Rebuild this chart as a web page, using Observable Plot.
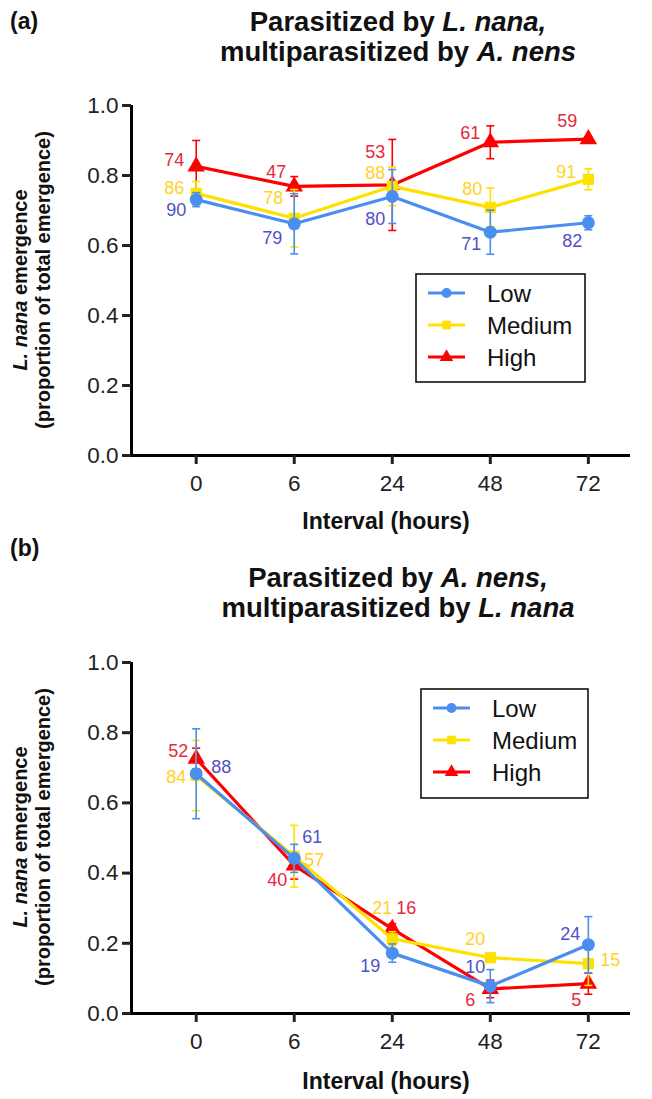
<!DOCTYPE html>
<html><head><meta charset="utf-8">
<script src="https://cdn.jsdelivr.net/npm/d3@7"></script>
<script src="https://cdn.jsdelivr.net/npm/@observablehq/plot@0.6"></script>
<style>
body{margin:0;background:#fff;font-family:"Liberation Sans",Arial,sans-serif;}
#wrap{width:652px;}
svg{display:block;overflow:visible}
</style></head><body><div id="wrap"></div>
<script>
// ---------- data ----------
const intervals = ["0", "6", "24", "48", "72"];
const seriesNames = ["Low", "Medium", "High"];
const yTicks = [0, 0.2, 0.4, 0.6, 0.8, 1.0];

// Panel (a): parasitized by L. nana, multiparasitized by A. nens
const aLow = [0.731, 0.662, 0.740, 0.638, 0.665];
const aLowErr = [0.02, 0.086, 0.077, 0.063, 0.02];
const aLowN = [90, 79, 80, 71, 82];
const aMed = [0.749, 0.678, 0.769, 0.709, 0.789];
const aMedErr = [0.034, 0.082, 0.055, 0.055, 0.03];
const aMedN = [86, 78, 88, 80, 91];
const aHigh = [0.826, 0.769, 0.773, 0.895, 0.904];
const aHighErr = [0.074, 0.028, 0.13, 0.047, 0.006];
const aHighN = [74, 47, 53, 61, 59];

// Panel (b): parasitized by A. nens, multiparasitized by L. nana
const bLow = [0.683, 0.442, 0.172, 0.078, 0.196];
const bLowErr = [0.128, 0.04, 0.026, 0.047, 0.08];
const bLowN = [88, 61, 19, 10, 24];
const bMed = [0.678, 0.448, 0.213, 0.159, 0.142];
const bMedErr = [0.10, 0.088, 0.02, 0.01, 0.062];
const bMedN = [84, 57, 21, 20, 15];
const bHigh = [0.726, 0.422, 0.241, 0.070, 0.085];
const bHighErr = [0.03, 0.039, 0.015, 0.025, 0.03];
const bHighN = [52, 40, 16, 6, 5];

// ---------- layout (label offsets in px, not data) ----------
const aOffsets = {
  Low:    [[-20, 11], [-22, 14], [-17, 23], [-19, 12], [-16, 18]],
  Medium: [[-22, -5], [-21, -20], [-17, -13], [-18, -18], [-22, -7]],
  High:   [[-22, -6], [-18, -14], [-17, -33], [-20, -9], [-21, -18]]
};
const bOffsets = {
  Low:    [[25, -7], [18, -21], [-22, 13], [-15, -19], [-18, -10]],
  Medium: [[-20, 2], [20, 4], [-10, -31], [-15, -18], [22, -3]],
  High:   [[-18, -7], [-17, 15], [14, -21], [-20, 11], [-12, 17]]
};

const colors = {Low: "#4a8ff0", Medium: "#ffe100", High: "#ff0000"};
const labelColors = {Low: "#5050c8", Medium: "#ffd21f", High: "#e8283c"};
const symbols = {Low: "circle", Medium: "square", High: "triangle"};
const symR = {Low: 6.5, Medium: 6.3, High: 6.5};
const font = "Liberation Sans, Arial, Helvetica, sans-serif";

function rowsFor(vals, errs, ns, offs, name) {
  return vals.map((v, i) => ({series: name, i, v, e: errs[i], n: ns[i], dx: offs[name][i][0], dy: offs[name][i][1]}));
}

const capSymbol = {
  draw(context, size) {
    const w = Math.sqrt(size / Math.PI);
    context.moveTo(-w, 0);
    context.lineTo(w, 0);
  }
};

const xMin = -0.66, xMax = 4.43;

function makePanel(data, opts) {
  const marks = [
    Plot.ruleX([xMin], {stroke: "black", strokeWidth: 3}),
    Plot.ruleY([0], {stroke: "black", strokeWidth: 3, x1: xMin, x2: xMax}),
    Plot.axisY({ticks: yTicks, label: null, tickSize: 9, strokeWidth: 3, tickPadding: 4, fontSize: 22.5, tickFormat: d3.format(".1f"), color: "#222"}),
    Plot.axisX({ticks: [0, 1, 2, 3, 4], label: null, tickSize: 9, strokeWidth: 3, tickPadding: 11, fontSize: 22.5, tickFormat: i => intervals[i], color: "#222"})
  ];
  for (const name of ["High", "Medium", "Low"]) {
    const rows = data[name];
    const c = colors[name];
    marks.push(
      Plot.ruleX(rows, {x: "i", y1: d => d.v - d.e, y2: d => d.v + d.e, stroke: c, strokeWidth: 1.6}),
      Plot.dot(rows, {x: "i", y: d => d.v + d.e, symbol: capSymbol, r: 4, stroke: c, strokeWidth: 1.6, fill: "none"}),
      Plot.dot(rows, {x: "i", y: d => d.v - d.e, symbol: capSymbol, r: 4, stroke: c, strokeWidth: 1.6, fill: "none"}),
      Plot.line(rows, {x: "i", y: "v", stroke: c, strokeWidth: 3.2}),
      Plot.dot(rows, {x: "i", y: "v", symbol: symbols[name], r: symR[name], fill: c, stroke: "none"})
    );
  }
  for (const name of ["High", "Medium", "Low"]) {
    for (const r of data[name]) {
      marks.push(Plot.text([r], {x: "i", y: "v", text: "n", dx: r.dx, dy: r.dy, fill: labelColors[name], fontSize: 18}));
    }
  }
  return Plot.plot({
    width: 652, height: opts.height,
    marginTop: opts.marginTop, marginBottom: opts.marginBottom, marginLeft: 131, marginRight: 652 - 630,
    x: {domain: [xMin, xMax], axis: null},
    y: {domain: [0, 1], axis: null},
    style: {fontFamily: font, background: "white", color: "#222", overflow: "visible"},
    marks
  });
}

function decorate(svgNode, o) {
  const svg = d3.select(svgNode);
  const g = svg.append("g").attr("font-family", font).attr("fill", "#111").attr("text-anchor", "start");
  // panel letter
  g.append("text").attr("x", 10).attr("y", o.letterY).attr("font-size", 23).attr("font-weight", "bold").text(o.letter);
  // title
  for (let k = 0; k < 2; k++) {
    const t = g.append("text").attr("x", 398).attr("y", o.titleY[k]).attr("text-anchor", "middle")
      .attr("font-size", 27.5).attr("font-weight", "bold");
    for (const [s, it] of o.title[k]) t.append("tspan").attr("font-style", it ? "italic" : "normal").text(s);
  }
  // y axis title
  const cy = o.axisMid;
  const t1 = g.append("text").attr("transform", `translate(27,${cy}) rotate(-90)`).attr("text-anchor", "middle")
    .attr("font-size", 20).attr("font-weight", "bold");
  t1.append("tspan").attr("font-style", "italic").text("L. nana");
  t1.append("tspan").text(" emergence");
  g.append("text").attr("transform", `translate(50,${cy}) rotate(-90)`).attr("text-anchor", "middle")
    .attr("font-size", 20).attr("font-weight", "bold").text("(proportion of total emergence)");
  // x axis title
  g.append("text").attr("x", 386).attr("y", o.xTitleY).attr("text-anchor", "middle")
    .attr("font-size", 23).attr("font-weight", "bold").text("Interval (hours)");
  // legend
  const L = o.legend;
  const lg = svg.append("g").attr("font-family", font).attr("text-anchor", "start");
  lg.append("rect").attr("x", L.x).attr("y", L.y).attr("width", L.w).attr("height", L.h)
    .attr("fill", "white").attr("stroke", "#111").attr("stroke-width", 1.6);
  seriesNames.forEach((name, k) => {
    const yy = L.y + 19 + k * 32;
    lg.append("line").attr("x1", L.x + 12).attr("x2", L.x + 49).attr("y1", yy).attr("y2", yy)
      .attr("stroke", colors[name]).attr("stroke-width", 3.2);
    const sym = {circle: d3.symbolCircle, square: d3.symbolSquare, triangle: d3.symbolTriangle}[symbols[name]];
    lg.append("path").attr("d", d3.symbol(sym, Math.PI * symR[name] * symR[name] * 0.6)())
      .attr("transform", `translate(${L.x + 30.5},${yy})`).attr("fill", colors[name]);
    lg.append("text").attr("x", L.x + 71).attr("y", yy).attr("dy", "0.36em").attr("font-size", 24).attr("fill", "#111").text(name);
  });
}

const wrap = document.getElementById("wrap");

const dataA = {
  Low: rowsFor(aLow, aLowErr, aLowN, aOffsets, "Low"),
  Medium: rowsFor(aMed, aMedErr, aMedN, aOffsets, "Medium"),
  High: rowsFor(aHigh, aHighErr, aHighN, aOffsets, "High")
};
const dataB = {
  Low: rowsFor(bLow, bLowErr, bLowN, bOffsets, "Low"),
  Medium: rowsFor(bMed, bMedErr, bMedN, bOffsets, "Medium"),
  High: rowsFor(bHigh, bHighErr, bHighN, bOffsets, "High")
};

const pa = makePanel(dataA, {height: 540, marginTop: 105, marginBottom: 85});
decorate(pa, {
  letter: "(a)", letterY: 29, titleY: [31, 61],
  title: [[["Parasitized by ", false], ["L. nana,", true]], [["multiparasitized by ", false], ["A. nens", true]]],
  axisMid: 280, xTitleY: 529,
  legend: {x: 416, y: 274, w: 169, h: 108}
});
wrap.appendChild(pa);

const pb = makePanel(dataB, {height: 559, marginTop: 122, marginBottom: 86});
decorate(pb, {
  letter: "(b)", letterY: 16, titleY: [47, 77],
  title: [[["Parasitized by ", false], ["A. nens,", true]], [["multiparasitized by ", false], ["L. nana", true]]],
  axisMid: 297, xTitleY: 549,
  legend: {x: 421, y: 149, w: 167, h: 109}
});
wrap.appendChild(pb);
</script></body></html>
